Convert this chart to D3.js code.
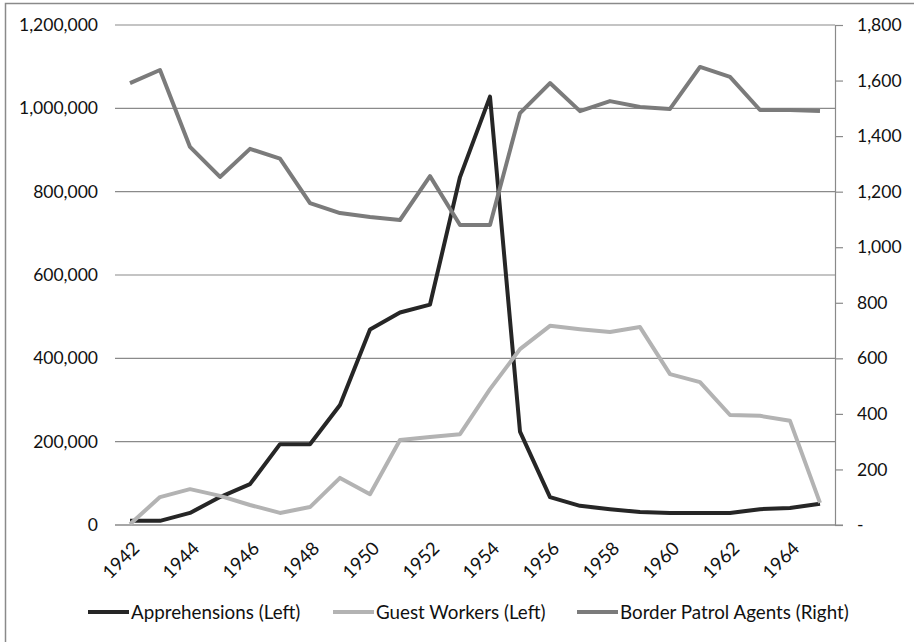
<!DOCTYPE html>
<html>
<head>
<meta charset="utf-8">
<script src="https://cdn.jsdelivr.net/npm/d3@7"></script>
<style>
  body { margin: 0; background: #fff; }
  svg text { font-family: Lato, "Open Sans", sans-serif; fill: #111; }
</style>
</head>
<body>
<div id="viz"></div>
<script>
// data
var years = d3.range(1942, 1966);
var apprehensions = [10000, 10000, 29000, 67000, 98000, 194000, 194000, 288000, 469000, 510000, 529000, 835000,
  1028000, 224000, 67000, 46000, 38000, 31000, 29000, 29000, 29000, 38000, 41000, 51000];
var guestWorkers = [2000, 67000, 86000, 70000, 48000, 29000, 43000, 113000, 74000, 204000, 211000, 218000,
  326000, 422000, 478000, 470000, 463000, 475000, 362000, 343000, 264000, 262000, 250000, 53000];
var borderAgents = [1591, 1638, 1361, 1253, 1354, 1319, 1159, 1123, 1109, 1098, 1256, 1080,
  1080, 1483, 1591, 1490, 1526, 1505, 1498, 1649, 1613, 1494, 1494, 1490];
var leftTicks = [0, 200000, 400000, 600000, 800000, 1000000, 1200000];
var rightTicks = [0, 200, 400, 600, 800, 1000, 1200, 1400, 1600, 1800];

var series = [
  {name: "Apprehensions (Left)", values: apprehensions, axis: "left", color: "#262626"},
  {name: "Guest Workers (Left)", values: guestWorkers, axis: "left", color: "#b3b3b3"},
  {name: "Border Patrol Agents (Right)", values: borderAgents, axis: "right", color: "#7b7b7b"}
];

var W = 914, H = 642;
var margin = {top: 25, right: 79, bottom: 117, left: 115},
    width = W - margin.left - margin.right,
    height = H - margin.top - margin.bottom;

var svg = d3.select("#viz")
  .append("svg")
  .attr("width", W)
  .attr("height", H);

// outer frame (only left and top are in view)
svg.append("rect")
  .attr("x", 5.5).attr("y", 3.5)
  .attr("width", 940).attr("height", 660)
  .attr("fill", "none")
  .attr("stroke", "#8a8a8a")
  .attr("stroke-width", 1.5);

var g = svg.append("g")
  .attr("transform", "translate(" + margin.left + "," + margin.top + ")");

var x = d3.scaleBand().domain(years).range([0, width]);
var yL = d3.scaleLinear().domain([0, 1200000]).range([height, 0]);
var yR = d3.scaleLinear().domain([0, 1800]).range([height, 0]);
var fmt = d3.format(",");

// gridlines
g.append("g")
  .selectAll("line")
  .data(leftTicks)
  .enter().append("line")
  .attr("x1", 0).attr("x2", width)
  .attr("y1", d => yL(d)).attr("y2", d => yL(d))
  .attr("stroke", "#8a8a8a")
  .attr("stroke-width", 1.2);

// left axis labels
var leftAxis = g.append("g")
  .call(d3.axisLeft(yL).tickValues(leftTicks).tickFormat(fmt).tickSize(0).tickPadding(17));
leftAxis.select(".domain").remove();
leftAxis.selectAll("text").style("font-size", "17.5px").style("font-family", "Lato, sans-serif").attr("fill", "#111");

// right axis
var rightAxis = g.append("g")
  .attr("transform", "translate(" + width + ",0)")
  .call(d3.axisRight(yR).tickValues(rightTicks)
    .tickFormat(d => d === 0 ? "-" : fmt(d)).tickSize(8).tickSizeOuter(0).tickPadding(14));
rightAxis.select(".domain").attr("stroke", "#8a8a8a").attr("stroke-width", 1.2);
rightAxis.selectAll(".tick line").attr("stroke", "#8a8a8a").attr("stroke-width", 1.2);
rightAxis.selectAll("text").style("font-size", "17.5px").style("font-family", "Lato, sans-serif").attr("fill", "#111");

// bottom axis line
g.append("line")
  .attr("x1", 0).attr("x2", width + 8)
  .attr("y1", height).attr("y2", height)
  .attr("stroke", "#8a8a8a")
  .attr("stroke-width", 1.2);

// x labels (every other year, rotated)
g.append("g")
  .selectAll("text")
  .data(years.filter(d => d % 2 === 0))
  .enter().append("text")
  .attr("transform", d => "translate(" + (x(d) + x.bandwidth() / 2 + 6) + "," + (height + 20) + ") rotate(-45)")
  .attr("text-anchor", "end")
  .attr("dy", "0.35em")
  .style("font-size", "18.5px")
  .text(d => d);

// lines
series.forEach(s => {
  var yS = s.axis === "left" ? yL : yR;
  var line = d3.line()
    .x((d, i) => x(years[i]) + x.bandwidth() / 2)
    .y(d => yS(d));
  g.append("path")
    .datum(s.values)
    .attr("fill", "none")
    .attr("stroke", s.color)
    .attr("stroke-width", 4)
    .attr("stroke-linejoin", "round")
    .attr("d", line);
});

// legend
var legendX = [88, 333, 577];
var legend = svg.append("g");
series.forEach((s, i) => {
  var lg = legend.append("g").attr("transform", "translate(" + legendX[i] + ",612)");
  lg.append("line")
    .attr("x1", 0).attr("x2", 41)
    .attr("stroke", s.color)
    .attr("stroke-width", 4);
  lg.append("text")
    .attr("x", 43)
    .attr("dy", "0.35em")
    .style("font-size", "18.8px")
    .text(s.name);
});
</script>
</body>
</html>
